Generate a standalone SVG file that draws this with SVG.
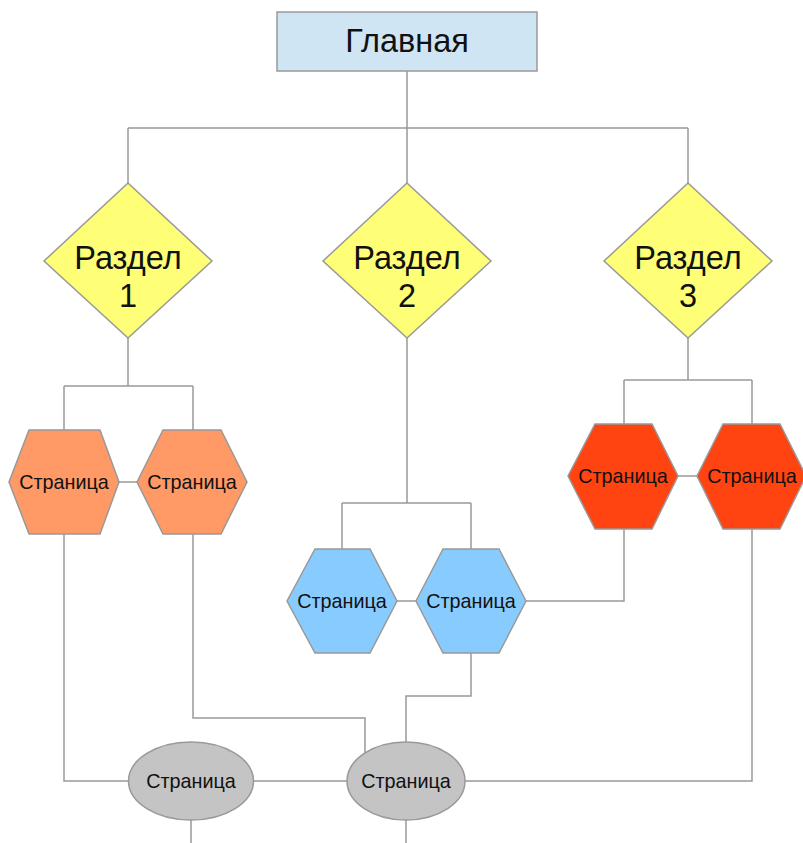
<svg xmlns="http://www.w3.org/2000/svg" width="803" height="843" viewBox="0 0 803 843">
<style>
.c{fill:none;stroke:#999;stroke-width:1.5}
.s{stroke:#999;stroke-width:1.5}
text{font-family:"Liberation Sans",Arial,sans-serif;fill:#111;text-anchor:middle}
.big{font-size:32.5px}
.sm{font-size:19.8px}
.dia{fill:#ffff77}
.or{fill:#ff9966}
.bl{fill:#88ccff}
.rd{fill:#ff4411}
.el{fill:#c4c4c4}
</style>
<rect width="803" height="843" fill="#fff"/>
<g id="connectors" class="c">
<path d="M407 71V128M128 128H688M128 128V183M407 128V183M688 128V183"/>
<path d="M128 338V386M64 386H193M64 386V430M193 386V430M119 482H137"/>
<path d="M64 534V781H128M193 534V718H365V753"/>
<path d="M407 338V503M342 503H471M342 503V549M471 503V549M397 601H416"/>
<path d="M526 601H624V529"/>
<path d="M688 338V380M624 380H752M624 380V424M752 380V424M678 476H697"/>
<path d="M752 529V781H465"/>
<path d="M471 653V696H406V742"/>
<path d="M253 781H347M191 820V843M406 820V843"/>
</g>
<g id="main">
<rect x="277" y="12" width="260" height="59" fill="#cfe5f3" class="s"/>
<text class="big" x="407" y="52">Главная</text>
</g>
<g id="section1">
<polygon class="dia s" points="128,183 212,261 128,338 44,261"/>
<text class="big" x="128" y="269">Раздел</text>
<text class="big" x="128" y="307">1</text>
</g>
<g id="section2">
<polygon class="dia s" points="407,183 491,261 407,338 323,261"/>
<text class="big" x="407" y="269">Раздел</text>
<text class="big" x="407" y="307">2</text>
</g>
<g id="section3">
<polygon class="dia s" points="688,183 772,261 688,338 604,261"/>
<text class="big" x="688" y="269">Раздел</text>
<text class="big" x="688" y="307">3</text>
</g>
<g id="page-o1">
<polygon class="or s" points="9,482 29,430 100,430 119,482 100,534 29,534"/>
<text class="sm" x="64" y="489">Страница</text>
</g>
<g id="page-o2">
<polygon class="or s" points="137,482 163,430 221,430 247,482 221,534 163,534"/>
<text class="sm" x="192" y="489">Страница</text>
</g>
<g id="page-b1">
<polygon class="bl s" points="287,601 315,549 370,549 397,601 370,653 315,653"/>
<text class="sm" x="342" y="608">Страница</text>
</g>
<g id="page-b2">
<polygon class="bl s" points="416,601 443,549 499,549 526,601 499,653 443,653"/>
<text class="sm" x="471" y="608">Страница</text>
</g>
<g id="page-r1">
<polygon class="rd s" points="568,476 595,424 652,424 678,476 652,529 595,529"/>
<text class="sm" x="623" y="483">Страница</text>
</g>
<g id="page-r2">
<polygon class="rd s" points="697,476 723,424 780,424 806,476 780,529 723,529"/>
<text class="sm" x="752" y="483">Страница</text>
</g>
<g id="page-g1">
<ellipse class="el s" cx="191" cy="781" rx="62.5" ry="39"/>
<text class="sm" x="191" y="788">Страница</text>
</g>
<g id="page-g2">
<ellipse class="el s" cx="406" cy="781" rx="59" ry="39"/>
<text class="sm" x="406" y="788">Страница</text>
</g>
</svg>
